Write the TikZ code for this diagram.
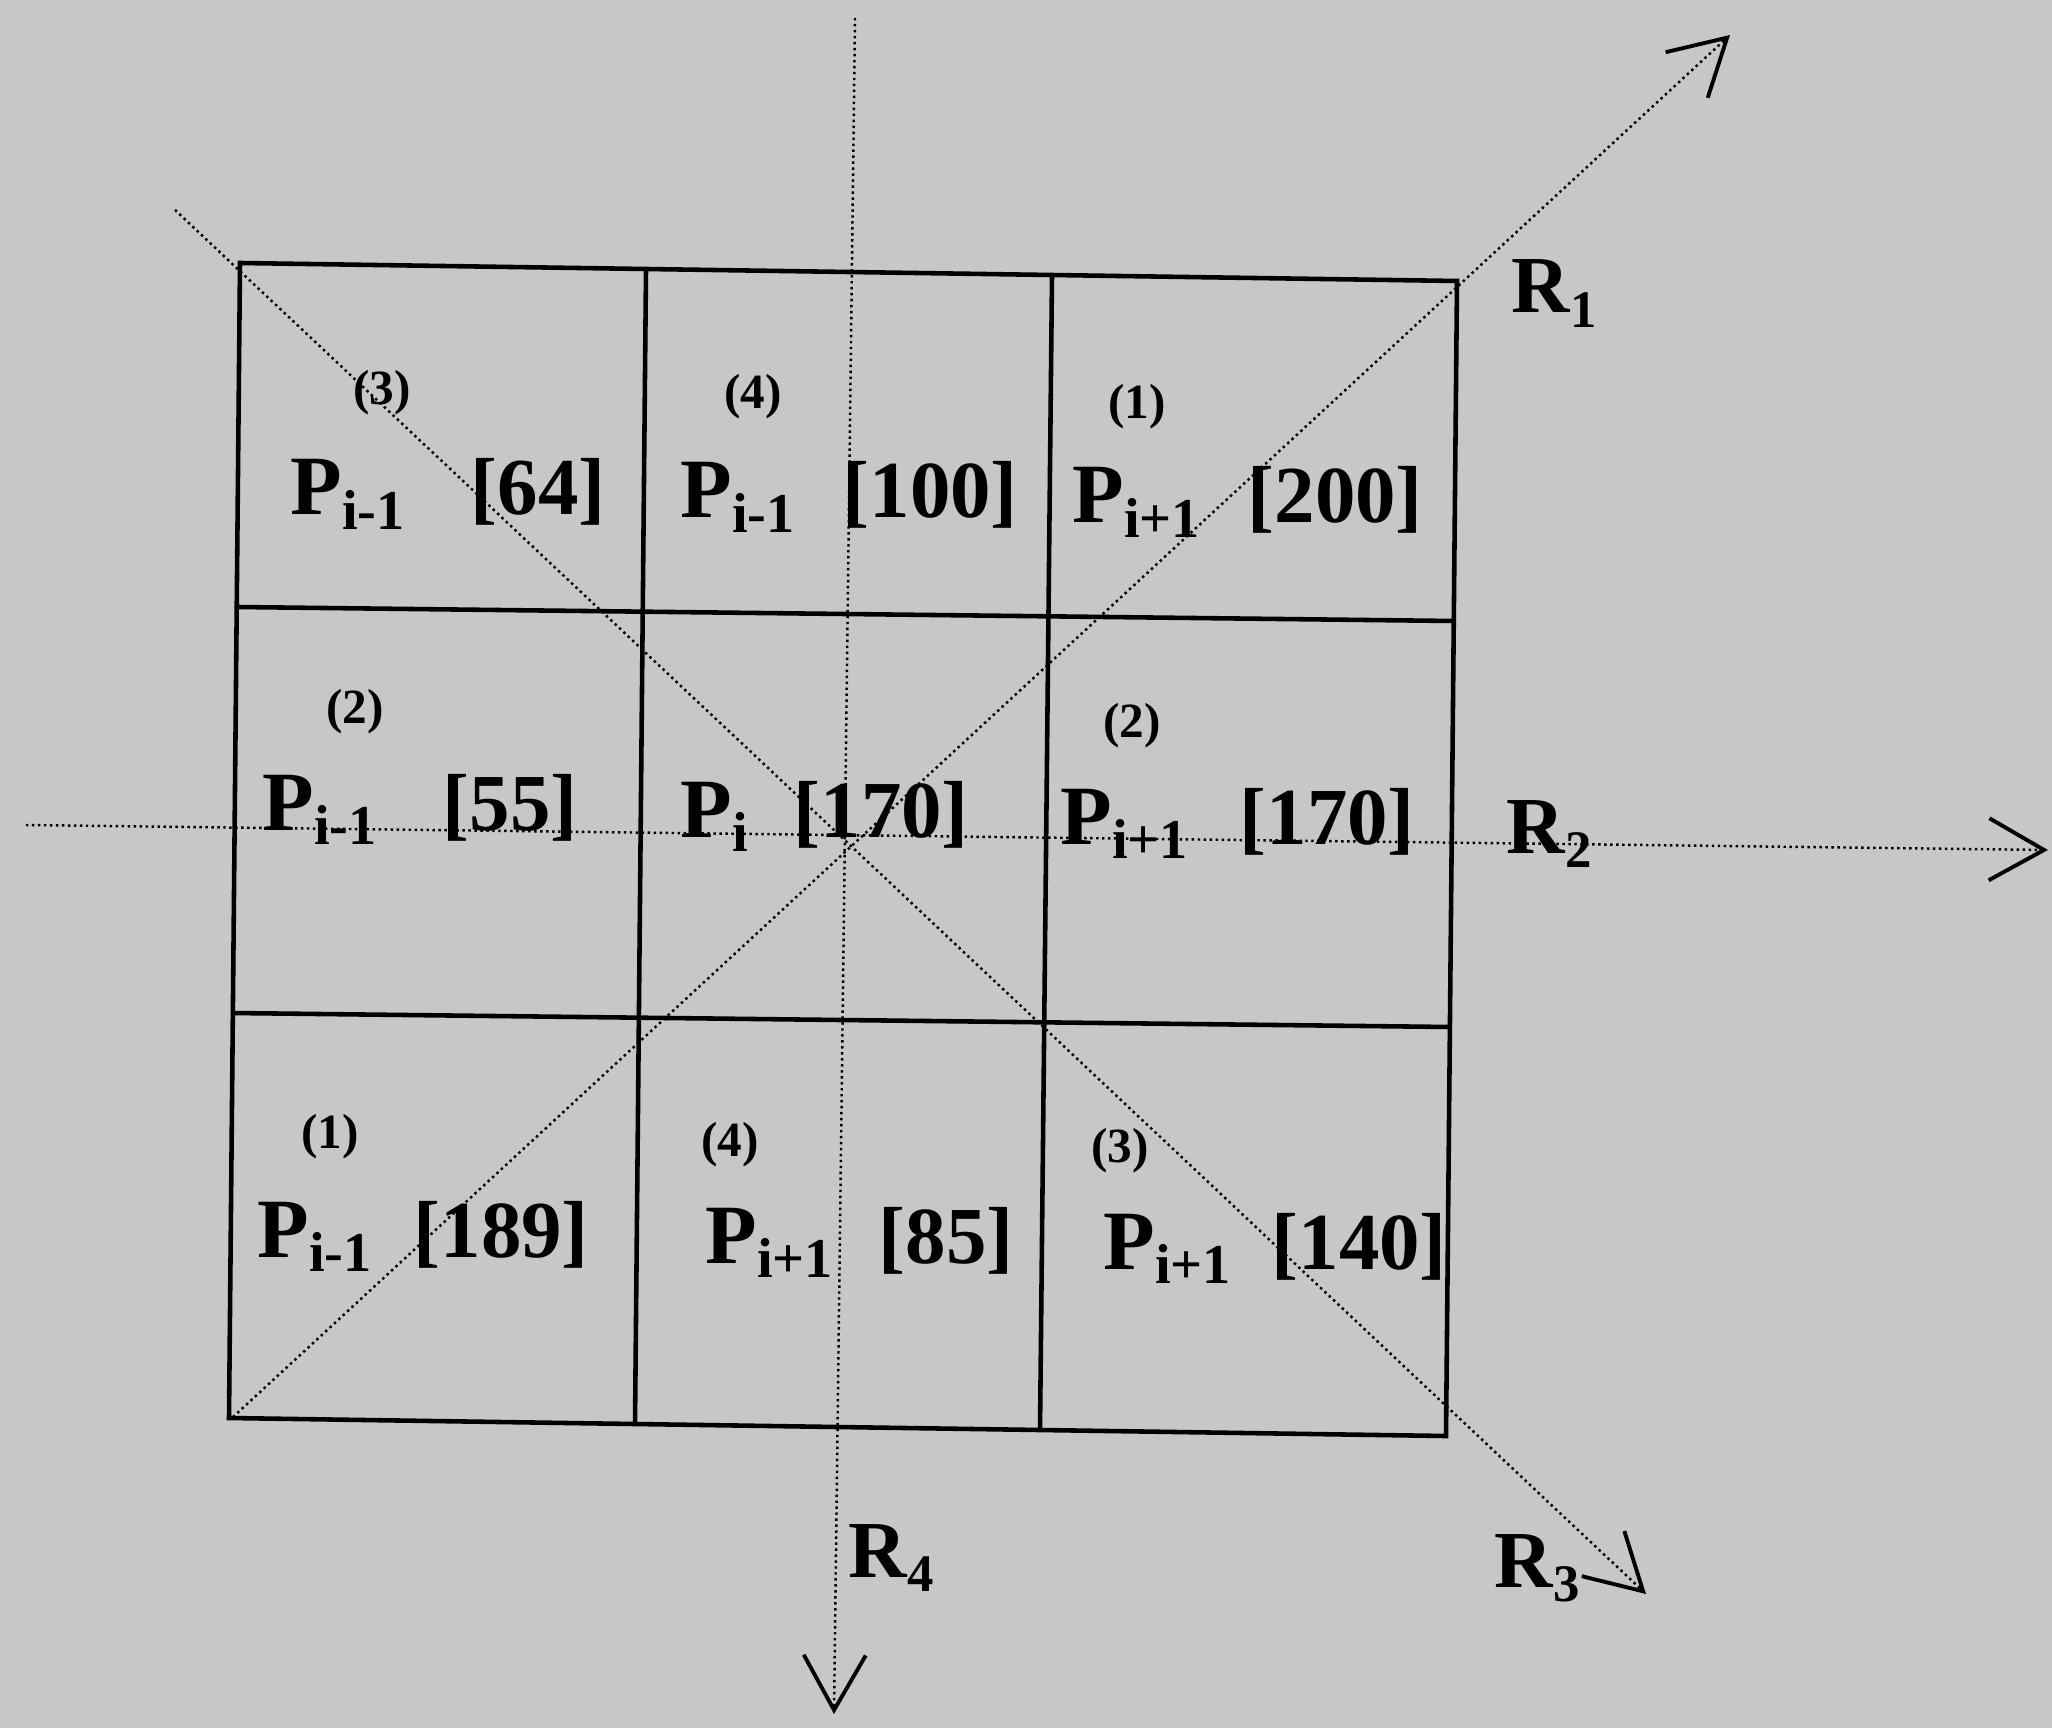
\documentclass[tikz,border=0pt]{standalone}
\usepackage{fontspec}
\setmainfont{Liberation Serif}
\usetikzlibrary{arrows.meta}
\definecolor{bggray}{gray}{0.78}
\newcommand{\Psub}[1]{P\raisebox{-4pt}{\fontsize{16}{16}\selectfont #1}}
\newcommand{\Rsub}[1]{R\raisebox{-4pt}{\fontsize{15}{15}\selectfont #1}}
\tikzset{
  gridline/.style={line width=1.3pt, black},
  ray/.style={densely dotted, line width=0.7pt, black,
    -{Straight Barb[length=0.55cm, width=0.62cm, line width=1.1pt]}},
  ptext/.style={anchor=base west, inner sep=0pt, font=\fontsize{24}{24}\selectfont\bfseries},
  ntext/.style={anchor=base west, inner sep=0pt, font=\fontsize{23}{23}\selectfont\bfseries},
  lab/.style={inner sep=0pt, font=\fontsize{14}{14}\selectfont\bfseries},
  rlab/.style={anchor=base west, inner sep=0pt, font=\fontsize{23}{23}\selectfont\bfseries}
}
\begin{document}
\begin{tikzpicture}[x=0.01cm, y=-0.01cm]
\fill[bggray] (0,0) rectangle (2052,1728);
\useasboundingbox (0,0) rectangle (2052,1728);
% grid corners and line ends
\coordinate (TL) at (240,263);
\coordinate (TR) at (1457,281);
\coordinate (BR) at (1446,1436);
\coordinate (BL) at (229,1418);
\coordinate (v1t) at (646,269);
\coordinate (v1b) at (635,1424);
\coordinate (v2t) at (1052,275);
\coordinate (v2b) at (1040,1430);
\coordinate (h1l) at (237,607);
\coordinate (h1r) at (1454,621);
\coordinate (h2l) at (232,1013);
\coordinate (h2r) at (1450,1027);
% ray ends
\coordinate (r1s) at (233,1417);
\coordinate (r1e) at (1730,35);
\coordinate (r2s) at (26,825);
\coordinate (r2e) at (2048,850);
\coordinate (r3s) at (175,210);
\coordinate (r3e) at (1646,1594);
\coordinate (r4s) at (855,18);
\coordinate (r4e) at (834,1714);
% grid
\draw[gridline] (TL) -- (TR) -- (BR) -- (BL) -- cycle;
\draw[gridline] (v1t) -- (v1b);
\draw[gridline] (v2t) -- (v2b);
\draw[gridline] (h1l) -- (h1r);
\draw[gridline] (h2l) -- (h2r);
% rays
\draw[ray] (r1s) -- (r1e);
\draw[ray] (r2s) -- (r2e);
\draw[ray] (r3s) -- (r3e);
\draw[ray] (r4s) -- (r4e);
% row 1
\node[lab] (l11) at (382,393) {(3)};
\node[ptext] (p11) at (290,515) {\Psub{i-1}};
\node[ntext] (n11) at (470,515) {[64]};
\node[lab] (l12) at (753,397) {(4)};
\node[ptext] (p12) at (680,518) {\Psub{i-1}};
\node[ntext] (n12) at (842,518) {[100]};
\node[lab] (l13) at (1137,407) {(1)};
\node[ptext] (p13) at (1072,523) {\Psub{i+1}};
\node[ntext] (n13) at (1247,523) {[200]};
% row 2
\node[lab] (l21) at (355,712) {(2)};
\node[ptext] (p21) at (262,830) {\Psub{i-1}};
\node[ntext] (n21) at (442,830) {[55]};
\node[ptext] (p22) at (680,837) {\Psub{i}};
\node[ntext] (n22) at (793,837) {[170]};
\node[lab] (l23) at (1132,726) {(2)};
\node[ptext] (p23) at (1060,844) {\Psub{i+1}};
\node[ntext] (n23) at (1239,844) {[170]};
% row 3
\node[lab] (l31) at (330,1137) {(1)};
\node[ptext] (p31) at (257,1257) {\Psub{i-1}};
\node[ntext] (n31) at (413,1257) {[189]};
\node[lab] (l32) at (730,1145) {(4)};
\node[ptext] (p32) at (705,1263) {\Psub{i+1}};
\node[ntext] (n32) at (878,1263) {[85]};
\node[lab] (l33) at (1120,1151) {(3)};
\node[ptext] (p33) at (1103,1269) {\Psub{i+1}};
\node[ntext] (n33) at (1271,1269) {[140]};
% ray labels
\node[rlab] (R1) at (1511,313) {\Rsub{1}};
\node[rlab] (R2) at (1506,853) {\Rsub{2}};
\node[rlab] (R3) at (1494,1587) {\Rsub{3}};
\node[rlab] (R4) at (848,1577) {\Rsub{4}};
\end{tikzpicture}
\end{document}
